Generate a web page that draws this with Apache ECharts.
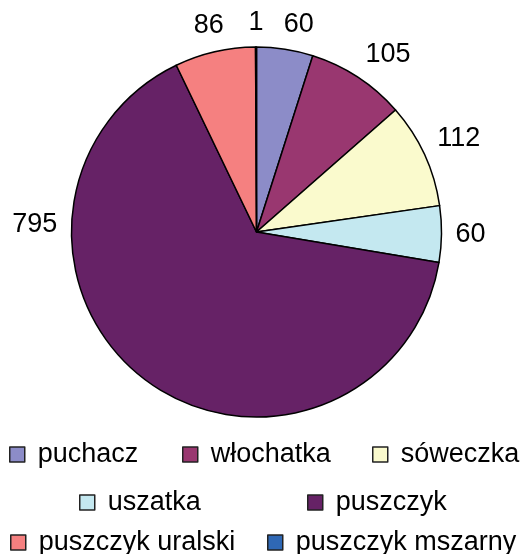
<!DOCTYPE html>
<html>
<head>
<meta charset="utf-8">
<script src="https://cdn.jsdelivr.net/npm/echarts@6/dist/echarts.min.js"></script>
<style>
html,body{margin:0;padding:0;background:#fff;}
#main{width:520px;height:554px;}
</style>
</head>
<body>
<div id="main"></div>
<script>
const categories = ['puchacz', 'włochatka', 'sóweczka', 'uszatka', 'puszczyk', 'puszczyk uralski', 'puszczyk mszarny'];
const values = [60, 105, 112, 60, 795, 86, 1];
const colors = ['#8C8CC8', '#993770', '#FAFACD', '#C4E8F0', '#662266', '#F58080', '#2F68B5'];

const CX = 256.5, CY = 232, R = 185, GAP = 14;
const FONT = '"Liberation Sans", Arial, sans-serif';
const total = values.reduce((a, b) => a + b, 0);
const cum = [];
values.reduce((acc, v, i) => { cum[i] = acc; return acc + v; }, 0);
// Excel nudged some labels away from their mid-angle (best fit)
const labelAngleOverride = { 0: 11.5, 1: 36.6, 4: 272 };

// legend item placement (icon left x, icon top y)
const legendPos = [
  [9, 447], [182, 447], [372, 447],
  [79, 495], [307, 495],
  [10, 535], [267, 535]
];

const chart = echarts.init(document.getElementById('main'), null, { renderer: 'canvas' });

const legends = categories.map((name, i) => ({
  data: [name],
  left: legendPos[i][0],
  top: legendPos[i][1] - 7.5,
  padding: 0,
  icon: 'rect',
  itemWidth: 15,
  itemHeight: 15,
  itemStyle: { borderColor: '#222', borderWidth: 1.5 },
  textStyle: { fontFamily: FONT, fontSize: 27, color: '#000', lineHeight: 30, padding: [0, 0, 0, 8] },
  selectedMode: false
}));

chart.setOption({
  animation: false,
  color: colors,
  legend: legends,
  series: [{
    type: 'pie',
    center: [CX, CY],
    radius: R,
    startAngle: 90,
    clockwise: true,
    avoidLabelOverlap: false,
    itemStyle: { borderColor: '#000', borderWidth: 1.5 },
    label: {
      show: true,
      position: 'outside',
      formatter: '{c}',
      fontFamily: FONT,
      fontSize: 27,
      color: '#000'
    },
    labelLine: { show: false },
    emphasis: { disabled: true },
    labelLayout: function (params) {
      const i = params.dataIndex;
      let deg = labelAngleOverride[i] != null ? labelAngleOverride[i]
        : (cum[i] + values[i] / 2) / total * 360;
      const t = deg * Math.PI / 180;
      const sx = Math.sin(t), sy = -Math.cos(t);
      const w = params.labelRect.width, h = 20;
      const d = R + GAP + (w / 2) * Math.abs(sx) + (h / 2) * Math.abs(sy);
      return { x: CX + d * sx, y: CY + d * sy, align: 'center', verticalAlign: 'middle' };
    },
    data: categories.map((n, i) => ({ name: n, value: values[i] }))
  }]
});
</script>
</body>
</html>
